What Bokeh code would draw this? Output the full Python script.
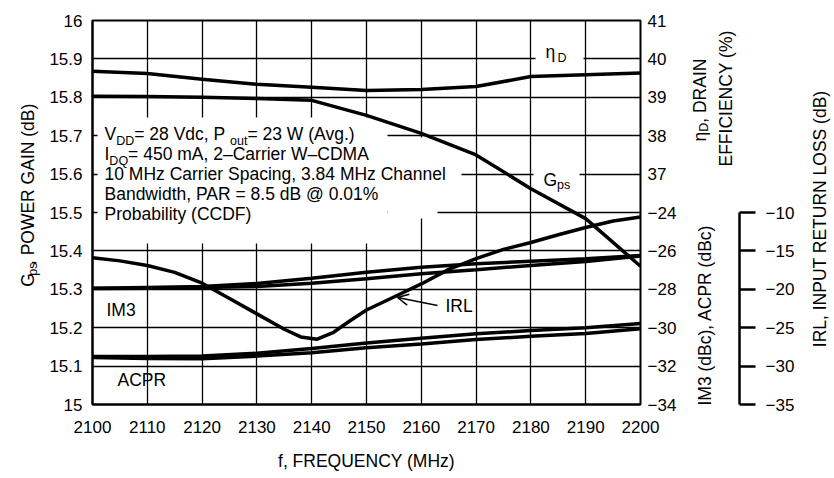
import math
from bokeh.plotting import figure
from bokeh.layouts import row
from bokeh.models import (Range1d, LinearAxis, FixedTicker, Label, BoxAnnotation,
                          Arrow, OpenHead)
from bokeh.embed import file_html
from bokeh.resources import INLINE

# ---------------- data ----------------
freq = [2100, 2110, 2120, 2130, 2140, 2150, 2160, 2170, 2180, 2190, 2200]
gps = [15.803, 15.802, 15.800, 15.797, 15.792, 15.753, 15.706, 15.650, 15.562, 15.484, 15.360]
eta_d = [39.68, 39.62, 39.47, 39.34, 39.26, 39.18, 39.20, 39.28, 39.54, 39.59, 39.63]
im3_upper = [-27.94, -27.90, -27.86, -27.70, -27.42, -27.11, -26.85, -26.67, -26.54, -26.41, -26.24]
im3_lower = [-27.96, -27.94, -27.90, -27.85, -27.68, -27.45, -27.19, -26.98, -26.76, -26.55, -26.26]
acpr_upper = [-31.50, -31.50, -31.48, -31.33, -31.08, -30.80, -30.55, -30.32, -30.15, -30.00, -29.78]
acpr_lower = [-31.55, -31.60, -31.62, -31.48, -31.30, -31.05, -30.85, -30.62, -30.45, -30.30, -30.05]
freq_irl = [2100, 2105, 2110, 2115, 2120, 2125, 2130, 2135, 2138, 2141, 2144, 2147, 2150,
            2155, 2160, 2165, 2170, 2175, 2180, 2185, 2190, 2195, 2200]
irl = [-15.9, -16.3, -16.9, -17.8, -19.2, -21.2, -23.2, -25.2, -26.2, -26.5, -25.6, -24.1, -22.7,
       -21.0, -19.3, -17.4, -16.0, -14.8, -13.9, -12.9, -11.95, -11.1, -10.6]

freq_ticks = [2100, 2110, 2120, 2130, 2140, 2150, 2160, 2170, 2180, 2190, 2200]
gps_ticks = [15.0, 15.1, 15.2, 15.3, 15.4, 15.5, 15.6, 15.7, 15.8, 15.9, 16.0]
gps_tick_labels = ["15", "15.1", "15.2", "15.3", "15.4", "15.5", "15.6", "15.7", "15.8", "15.9", "16"]
eta_ticks = [37, 38, 39, 40, 41]
eta_tick_labels = ["37", "38", "39", "40", "41"]
im3_ticks = [-34, -32, -30, -28, -26, -24]
im3_tick_labels = ["\u221234", "\u221232", "\u221230", "\u221228", "\u221226", "\u221224"]
irl_ticks = [-35, -30, -25, -20, -15, -10]
irl_tick_labels = ["\u221235", "\u221230", "\u221225", "\u221220", "\u221215", "\u221210"]

GPS_RANGE = (15.0, 16.0)
ETA_RANGE = (31.0, 41.0)
IM3_RANGE = (-34.0, -14.0)
IRL_RANGE = (-35.0, 15.0)

FONT = "Liberation Sans"
FS = 17.5     # text size
TS = 17       # tick label size
SUB = 12.5    # subscript size

# page geometry (pixels on the page)
H = 476
FR_L, FR_R, FR_T, FR_B = 92, 640, 20, 404     # main plot frame
L_W = 44                                      # left strip (G_ps title)
MAIN_X0, MAIN_X1 = L_W, 688                   # main figure
MID_X0, MID_X1, IRL_LINE = 688, 802, 739      # middle strip with IRL axis
R_X0, R_X1 = 802, 832                         # right strip (IRL title)

def base_fig(x0, x1, **kw):
    f = figure(width=x1 - x0, height=H, output_backend="svg", toolbar_location=None, **kw)
    f.outline_line_color = None
    f.background_fill_color = "white"
    f.border_fill_color = "white"
    return f

# ---------------- main figure ----------------
p = base_fig(MAIN_X0, MAIN_X1, x_range=Range1d(2100, 2200), y_range=Range1d(*GPS_RANGE),
             min_border_left=FR_L - MAIN_X0, min_border_right=MAIN_X1 - FR_R,
             min_border_top=FR_T, min_border_bottom=H - FR_B)
p.extra_x_ranges = {"px": Range1d(FR_L, FR_R)}
p.extra_y_ranges = {"eta": Range1d(*ETA_RANGE), "im3": Range1d(*IM3_RANGE),
                    "irl": Range1d(*IRL_RANGE), "py": Range1d(FR_B, FR_T)}
p.outline_line_color = "black"
p.outline_line_width = 2

p.xgrid.ticker = FixedTicker(ticks=freq_ticks)
p.ygrid.ticker = FixedTicker(ticks=gps_ticks)
for g in (p.xgrid, p.ygrid):
    g.grid_line_color = "black"
    g.grid_line_width = 1.3
    g.grid_line_alpha = 1.0
    g.level = "image"

def style_axis(ax):
    ax.major_label_text_font = FONT
    ax.major_label_text_font_size = f"{TS}px"
    ax.major_label_text_color = "black"
    ax.axis_label_text_font = FONT
    ax.axis_label_text_font_size = f"{FS}px"
    ax.axis_label_text_font_style = "normal"
    ax.axis_label_text_color = "black"
    ax.minor_tick_line_color = None
    ax.major_tick_in = 0
    ax.major_tick_out = 0

xa = p.xaxis[0]
style_axis(xa)
xa.ticker = FixedTicker(ticks=freq_ticks)
xa.axis_line_width = 2
xa.major_label_standoff = 16
xa.axis_label = "f, FREQUENCY (MHz)"
xa.axis_label_standoff = 15

ya = p.yaxis[0]
style_axis(ya)
ya.ticker = FixedTicker(ticks=gps_ticks)
ya.major_label_overrides = {t: s for t, s in zip(gps_ticks, gps_tick_labels)}
ya.axis_line_width = 2
ya.major_label_standoff = 10

def im3_to_eta(v):
    return ETA_RANGE[0] + (v - IM3_RANGE[0]) * (ETA_RANGE[1] - ETA_RANGE[0]) / (IM3_RANGE[1] - IM3_RANGE[0])

right_ticks = [im3_to_eta(v) for v in im3_ticks] + eta_ticks
right_labels = im3_tick_labels + eta_tick_labels
axA = LinearAxis(y_range_name="eta", ticker=FixedTicker(ticks=right_ticks))
style_axis(axA)
axA.major_label_overrides = {t: s for t, s in zip(right_ticks, right_labels)}
axA.axis_line_color = None
axA.major_label_standoff = 7
p.add_layout(axA, "right")

LW = 3.5
p.line(freq, gps, line_color="black", line_width=LW)
p.line(freq, eta_d, line_color="black", line_width=LW, y_range_name="eta")
p.line(freq, im3_upper, line_color="black", line_width=LW, y_range_name="im3")
p.line(freq, im3_lower, line_color="black", line_width=LW, y_range_name="im3")
p.line(freq, acpr_upper, line_color="black", line_width=LW, y_range_name="im3")
p.line(freq, acpr_lower, line_color="black", line_width=LW, y_range_name="im3")
p.line(freq_irl, irl, line_color="black", line_width=LW, y_range_name="irl")

# ---------------- middle strip: IRL axis ----------------
m = base_fig(MID_X0, MID_X1, x_range=Range1d(MID_X0, IRL_LINE), y_range=Range1d(*IRL_RANGE),
             x_axis_type=None, y_axis_type=None,
             min_border_left=0, min_border_right=MID_X1 - IRL_LINE,
             min_border_top=FR_T, min_border_bottom=H - FR_B)
m.extra_x_ranges = {"px": Range1d(MID_X0, IRL_LINE)}
m.extra_y_ranges = {"py": Range1d(FR_B, FR_T)}
axI = LinearAxis(ticker=FixedTicker(ticks=irl_ticks), bounds=(-35, -10))
style_axis(axI)
axI.major_label_overrides = {t: s for t, s in zip(irl_ticks, irl_tick_labels)}
axI.axis_line_width = 2.5
axI.axis_line_color = "black"
axI.major_tick_out = 16
axI.major_tick_line_width = 2.5
axI.major_label_standoff = 10
m.add_layout(axI, "right")

# ---------------- side strips for rotated titles ----------------
lft = base_fig(0, L_W, x_range=Range1d(0, L_W), y_range=Range1d(H, 0),
               x_axis_type=None, y_axis_type=None, min_border=0)
lft.extra_x_ranges = {"px": Range1d(0, L_W)}
lft.extra_y_ranges = {"py": Range1d(H, 0)}
rgt = base_fig(R_X0, R_X1, x_range=Range1d(R_X0, R_X1), y_range=Range1d(H, 0),
               x_axis_type=None, y_axis_type=None, min_border=0)
rgt.extra_x_ranges = {"px": Range1d(R_X0, R_X1)}
rgt.extra_y_ranges = {"py": Range1d(H, 0)}

# ---------------- text helpers (page pixel positions, y = text middle) ----------------
AW = {' ': 278, '%': 889, '(': 333, ')': 333, ',': 278, '-': 333, '.': 278,
      '=': 584, '@': 1015, '\u2013': 556, '\u2212': 584, '\u03b7': 556,
      'A': 667, 'B': 667, 'C': 722, 'D': 722, 'E': 667, 'F': 611, 'G': 778, 'H': 722,
      'I': 278, 'L': 556, 'M': 833, 'N': 722, 'O': 778, 'P': 667, 'Q': 778, 'R': 722,
      'S': 667, 'T': 611, 'U': 722, 'V': 667, 'W': 944, 'Y': 667, 'Z': 611,
      'a': 556, 'b': 556, 'c': 500, 'd': 556, 'e': 556, 'f': 278, 'g': 556, 'h': 556,
      'i': 222, 'l': 222, 'm': 833, 'n': 556, 'o': 556, 'p': 556, 'q': 556, 'r': 333,
      's': 500, 't': 278, 'u': 556, 'v': 500, 'w': 722, 'y': 500, 'z': 500}
def tw(s, size):
    return sum(AW.get(c, 556) for c in s) / 1000.0 * size

def put(fig, px, py, text, size=FS, angle=0.0):
    fig.add_layout(Label(x=px, y=py, x_range_name="px", y_range_name="py", text=text,
                         text_font=FONT, text_font_size=f"{size}px",
                         text_baseline="middle", text_align="left", angle=angle,
                         text_color="black", level="overlay"))

def rich(fig, px, py, pieces, vertical=False):
    pos = 0.0
    for text, size, drop in pieces:
        if vertical:
            put(fig, px + drop, py - pos, text, size, math.pi / 2)
        else:
            put(fig, px + pos, py + drop, text, size)
        pos += tw(text, size)

def white(x0, x1, y0, y1):
    p.add_layout(BoxAnnotation(left=x0, right=x1, top=y0, bottom=y1,
                               x_range_name="px", y_range_name="py",
                               fill_color="white", fill_alpha=1.0, line_color=None,
                               level="underlay"))

# white areas behind in-plot texts (they interrupt the grid)
white(97, 387, 117, 243)
white(387, 437, 137, 218)
white(437, 461, 152, 198)
white(535, 583, 46, 66)
white(533, 579, 166, 194)

# condition text block
rich(p, 104, 133, [("V", FS, 0), ("DD", SUB, 7), (" = 28 Vdc, P", FS, 0), ("out", SUB, 7),
                   (" = 23 W (Avg.)", FS, 0)])
rich(p, 104, 153, [("I", FS, 0), ("DQ", SUB, 7), (" = 450 mA, 2\u2013Carrier W\u2013CDMA", FS, 0)])
put(p, 104, 173, "10 MHz Carrier Spacing, 3.84 MHz Channel")
put(p, 104, 193, "Bandwidth, PAR = 8.5 dB @ 0.01%")
put(p, 104, 213, "Probability (CCDF)")

# curve labels
put(p, 545, 51, "\u03b7")
put(p, 557, 57, "D", SUB)
rich(p, 543, 179.5, [("G", FS, 0), ("ps", SUB, 5)])
put(p, 106, 309.5, "IM3")
put(p, 117, 379.5, "ACPR")
put(p, 445, 305, "IRL")
p.add_layout(Arrow(end=OpenHead(size=11, line_width=1.5, line_color="black"),
                   x_start=437, y_start=305, x_end=397, y_end=297,
                   x_range_name="px", y_range_name="py",
                   line_width=1.5, line_color="black", level="overlay"))

# axis titles (rotated, reading upward; x = text middle)
rich(lft, 27, 330, [("G", FS, 0), ("ps", SUB, 5), (", POWER GAIN (dB)", FS, 0)], vertical=True)
rich(m, 699.5, 141, [("\u03b7", FS, 0), ("D", SUB, 4), (", DRAIN", FS, 0)], vertical=True)
put(m, 725.5, 166, "EFFICIENCY (%)", FS, math.pi / 2)
put(m, 704.5, 405, "IM3 (dBc), ACPR (dBc)", FS, math.pi / 2)
put(rgt, 819, 405, "IRL, INPUT RETURN LOSS (dB)", FS, math.pi / 2)

layout = row(lft, p, m, rgt, spacing=0)
open("out.html", "w").write(file_html(layout, INLINE))
